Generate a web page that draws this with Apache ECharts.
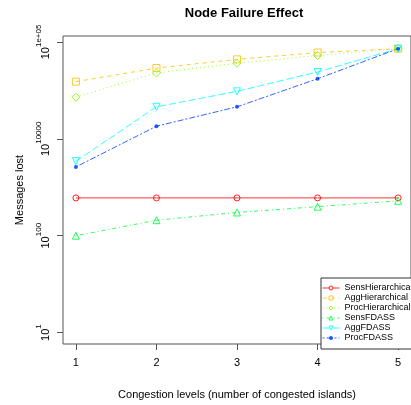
<!DOCTYPE html>
<html>
<head>
<meta charset="utf-8">
<script src="https://cdn.jsdelivr.net/npm/echarts@6/dist/echarts.min.js"></script>
<style>
  html, body { margin: 0; padding: 0; background: #fff; }
  #chart { width: 411px; height: 405px; }
</style>
</head>
<body>
<div id="chart"></div>
<script>
// x 轴：拥塞等级
var levels = [1, 2, 3, 4, 5];
// y 轴刻度位置（等间距）和对应的指数标签 10^x
var yTickPos = [1, 2, 3, 4];
var yTickExp = ['1', '100', '10000', '1e+05'];

// 各系列数值（以刻度位置为单位读取）
var sensHierarchical = [2.39, 2.39, 2.39, 2.39, 2.39];
var aggHierarchical  = [3.59, 3.73, 3.82, 3.89, 3.93];
var procHierarchical = [3.43, 3.68, 3.78, 3.86, 3.93];
var sensFDASS        = [2.00, 2.16, 2.24, 2.30, 2.36];
var aggFDASS         = [2.77, 3.33, 3.49, 3.69, 3.93];
var procFDASS        = [2.71, 3.13, 3.33, 3.62, 3.93];

var names = ['SensHierarchical', 'AggHierarchical', 'ProcHierarchical', 'SensFDASS', 'AggFDASS', 'ProcFDASS'];

var font = '"Liberation Sans", Arial, sans-serif';

function pairs(vals) {
  return vals.map(function (v, i) { return [levels[i], v]; });
}

// 空心标记：透明填充 + 1px 描边
function line(name, vals, color, dash, symbol, size, rotate, filled) {
  return {
    name: name,
    type: 'line',
    data: pairs(vals),
    symbol: symbol,
    symbolSize: size,
    symbolRotate: rotate || 0,
    showAllSymbol: true,
    lineStyle: { color: color, width: 1, type: dash, opacity: 0.8 },
    itemStyle: { color: filled ? color : 'rgba(255,255,255,0)', borderColor: color, borderWidth: filled ? 0 : 1, opacity: 0.85 },
    emphasis: { disabled: true },
    animation: false
  };
}

var chart = echarts.init(document.getElementById('chart'));

var option = {
  backgroundColor: '#fff',
  title: {
    text: 'Node Failure Effect',
    left: 239, top: 2, textAlign: 'center',
    textStyle: { fontFamily: font, fontSize: 13, fontWeight: 'bold', color: '#000' }
  },
  grid: {
    left: 63, top: 36, right: -4, bottom: 56,
    show: true, borderColor: '#555', borderWidth: 1, backgroundColor: 'transparent'
  },
  legend: {
    orient: 'vertical',
    left: 321, top: 278,
    padding: [5, 30, 6, 1],
    itemGap: 0,
    itemWidth: 17,
    itemHeight: 5,
    borderColor: '#333', borderWidth: 1, borderRadius: 0,
    backgroundColor: '#fff',
    lineStyle: { width: 1 },
    data: names.map(function (n, i) {
      // 最后一个（ProcFDASS）为实心点，其余为空心
      return i === 5 ? { name: n } : { name: n, itemStyle: { color: '#fff', borderWidth: 1 } };
    }),
    textStyle: { fontFamily: font, fontSize: 9, lineHeight: 10, color: '#000' }
  },
  xAxis: {
    type: 'value',
    min: 0.84, max: 5.16,
    name: 'Congestion levels (number of congested islands)',
    nameLocation: 'middle', nameGap: 45,
    nameTextStyle: { fontFamily: font, fontSize: 11, color: '#000' },
    axisLine: { show: false },
    axisTick: { show: true, length: 6, lineStyle: { color: '#555' }, customValues: levels },
    axisLabel: { fontFamily: font, fontSize: 11, color: '#000', margin: 13, customValues: levels },
    splitLine: { show: false }
  },
  yAxis: {
    type: 'value',
    min: 0.8825, max: 4.061,
    name: 'Messages lost',
    nameLocation: 'middle', nameGap: 38,
    nameTextStyle: { fontFamily: font, fontSize: 11, color: '#000' },
    axisLine: { show: false },
    axisTick: { show: true, length: 6, lineStyle: { color: '#555' }, customValues: yTickPos },
    axisLabel: {
      rotate: 90, margin: 12, customValues: yTickPos,
      formatter: function (v) {
        var i = yTickPos.indexOf(Math.round(v));
        return '{b|10}{s|' + yTickExp[i] + '}';
      },
      rich: {
        b: { fontFamily: font, fontSize: 11, color: '#000', lineHeight: 16, verticalAlign: 'bottom' },
        s: { fontFamily: font, fontSize: 8, color: '#000', lineHeight: 16, verticalAlign: 'top' }
      }
    },
    splitLine: { show: false }
  },
  series: [
    line(names[0], sensHierarchical, '#FF0000', 'solid', 'circle', 6),
    line(names[1], aggHierarchical, '#FFBF00', [4, 4], 'rect', 7),
    line(names[2], procHierarchical, '#80FF00', [1, 3], 'diamond', 8),
    line(names[3], sensFDASS, '#00FF40', [1, 3, 4, 3], 'triangle', 7),
    line(names[4], aggFDASS, '#00FFFF', [7, 3], 'triangle', 7, 180),
    line(names[5], procFDASS, '#0040FF', [2, 2, 6, 2], 'circle', 4, 0, true)
  ]
};

chart.setOption(option);
</script>
</body>
</html>
